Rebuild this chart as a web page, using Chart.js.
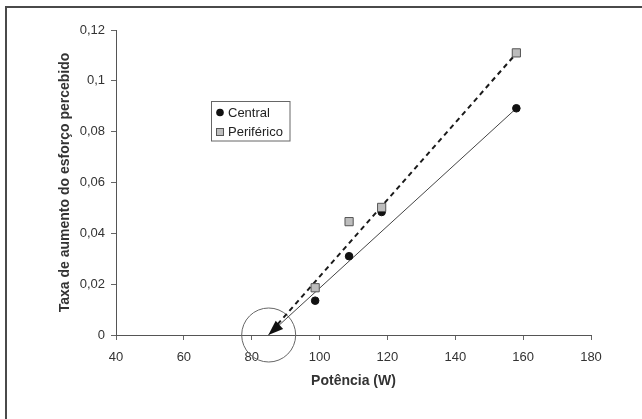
<!DOCTYPE html>
<html>
<head>
<meta charset="utf-8">
<script src="https://cdn.jsdelivr.net/npm/chart.js@4/dist/chart.umd.min.js"></script>
<style>
  html, body { margin: 0; padding: 0; background: #ffffff; }
  #wrap { position: relative; width: 642px; height: 419px; }
</style>
</head>
<body>
<div id="wrap"><canvas id="c" width="642" height="419"></canvas></div>
<script>
// ---- data ----
const seriesNames = ['Central', 'Periférico'];
const potencia = [98.7, 108.7, 118.3, 158];
const centralValues = [0.0135, 0.031, 0.0484, 0.0892];
const perifericoValues = [0.0186, 0.0446, 0.0502, 0.111];
// trend lines (start, end)
const centralTrendX = [84.9, 158];
const centralTrendY = [0.0, 0.0892];
const perifericoTrendX = [87.6, 158];
const perifericoTrendY = [0.0042, 0.1108];
// highlighted point (circle)
const circleX = [85];
const circleY = [0];
const xTicks = [40, 60, 80, 100, 120, 140, 160, 180];
const yTicks = [0, 0.02, 0.04, 0.06, 0.08, 0.1, 0.12];
const xTitle = 'Potência (W)';
const yTitle = 'Taxa de aumento do esforço percebido';

const toPts = (xs, ys) => xs.map((x, i) => ({ x: x, y: ys[i] }));
const fmt = v => {
  const s = String(Number(v.toFixed(2)));
  return s.replace('.', ',');
};

const FONT = '"Liberation Sans", Arial, sans-serif';

const framePlugin = {
  id: 'frame',
  afterDraw(chart) {
    const ctx = chart.ctx;
    ctx.save();
    ctx.strokeStyle = '#4a4a4a';
    ctx.lineWidth = 2;
    ctx.beginPath();
    ctx.moveTo(6, 419);
    ctx.lineTo(6, 7);
    ctx.lineTo(642, 7);
    ctx.stroke();
    ctx.restore();
  }
};

const arrowPlugin = {
  id: 'arrow',
  afterDatasetsDraw(chart) {
    const meta = chart.getDatasetMeta(2);
    if (!meta || meta.data.length < 2) return;
    const p0 = meta.data[0], p1 = meta.data[1];
    const dx = p0.x - p1.x, dy = p0.y - p1.y;
    const len = Math.hypot(dx, dy);
    const ux = dx / len, uy = dy / len;
    const L = 15, W = 5.5;
    const bx = p0.x - ux * L, by = p0.y - uy * L;
    const ctx = chart.ctx;
    ctx.save();
    ctx.fillStyle = '#111';
    ctx.beginPath();
    ctx.moveTo(p0.x, p0.y);
    ctx.lineTo(bx - uy * W, by + ux * W);
    ctx.lineTo(bx + uy * W, by - ux * W);
    ctx.closePath();
    ctx.fill();
    ctx.restore();
  }
};

const legendPlugin = {
  id: 'customLegend',
  afterDraw(chart) {
    const ctx = chart.ctx;
    ctx.save();
    ctx.strokeStyle = '#666';
    ctx.lineWidth = 1;
    ctx.fillStyle = '#ffffff';
    ctx.fillRect(211.5, 101.5, 78.5, 39.5);
    ctx.strokeRect(211.5, 101.5, 78.5, 39.5);
    // Central marker
    ctx.fillStyle = '#111';
    ctx.beginPath();
    ctx.arc(220, 112.5, 3.8, 0, Math.PI * 2);
    ctx.fill();
    // Periférico marker
    ctx.fillStyle = '#bdbdbd';
    ctx.strokeStyle = '#555';
    ctx.fillRect(216, 128, 8, 8);
    ctx.strokeRect(216.5, 128.5, 7, 7);
    ctx.fillStyle = '#222';
    ctx.font = '13px ' + FONT;
    ctx.textBaseline = 'middle';
    ctx.textAlign = 'left';
    ctx.fillText(seriesNames[0], 228, 113);
    ctx.fillText(seriesNames[1], 228, 132.5);
    ctx.restore();
  }
};

new Chart(document.getElementById('c'), {
  type: 'scatter',
  data: {
    datasets: [
      {
        label: seriesNames[0],
        data: toPts(potencia, centralValues),
        pointStyle: 'circle',
        pointRadius: 3.8,
        pointBackgroundColor: '#111',
        pointBorderColor: '#111',
        pointBorderWidth: 1,
        order: 1
      },
      {
        label: seriesNames[1],
        data: toPts(potencia, perifericoValues),
        pointStyle: 'rect',
        pointRadius: 5.8,
        pointBackgroundColor: '#bdbdbd',
        pointBorderColor: '#555',
        pointBorderWidth: 1,
        order: 0
      },
      {
        label: 'trend central',
        data: toPts(centralTrendX, centralTrendY),
        showLine: true,
        borderColor: '#444',
        borderWidth: 1,
        pointRadius: 0,
        clip: false,
        order: 3
      },
      {
        label: 'trend periferico',
        data: toPts(perifericoTrendX, perifericoTrendY),
        showLine: true,
        borderColor: '#1a1a1a',
        borderWidth: 2,
        borderDash: [5, 4],
        pointRadius: 0,
        clip: false,
        order: 2
      },
      {
        label: 'circle',
        data: toPts(circleX, circleY),
        pointStyle: 'circle',
        pointRadius: 27,
        pointBackgroundColor: 'rgba(0,0,0,0)',
        pointBorderColor: '#666',
        pointBorderWidth: 1,
        clip: false,
        order: 4
      }
    ]
  },
  options: {
    responsive: false,
    animation: false,
    events: [],
    layout: { padding: { top: 30, right: 51, left: 0, bottom: 0 } },
    plugins: {
      legend: { display: false },
      tooltip: { enabled: false }
    },
    scales: {
      x: {
        type: 'linear',
        min: xTicks[0],
        max: xTicks[xTicks.length - 1],
        afterFit(scale) { scale.height = 84; },
        afterBuildTicks(scale) { scale.ticks = xTicks.map(v => ({ value: v })); },
        ticks: {
          font: { family: FONT, size: 13 },
          color: '#333',
          padding: 10,
          maxRotation: 0,
          callback: v => String(v)
        },
        grid: {
          drawOnChartArea: false,
          drawTicks: true,
          tickLength: 5,
          tickColor: '#666'
        },
        border: { display: true, color: '#555', width: 1 },
        title: {
          display: true,
          text: xTitle,
          font: { family: FONT, size: 14, weight: 'bold' },
          color: '#333',
          padding: { top: 0, bottom: 29 }
        }
      },
      y: {
        type: 'linear',
        min: yTicks[0],
        max: yTicks[yTicks.length - 1],
        afterFit(scale) { scale.width = 116; },
        afterBuildTicks(scale) { scale.ticks = yTicks.map(v => ({ value: v })); },
        ticks: {
          font: { family: FONT, size: 13 },
          color: '#333',
          padding: 6,
          callback: v => fmt(v)
        },
        grid: {
          drawOnChartArea: false,
          drawTicks: true,
          tickLength: 5,
          tickColor: '#666'
        },
        border: { display: true, color: '#555', width: 1 },
        title: {
          display: true,
          text: yTitle,
          font: { family: FONT, size: 14, weight: 'bold' },
          color: '#333',
          padding: { top: 57, bottom: 0 }
        }
      }
    }
  },
  plugins: [framePlugin, arrowPlugin, legendPlugin]
});
</script>
</body>
</html>
